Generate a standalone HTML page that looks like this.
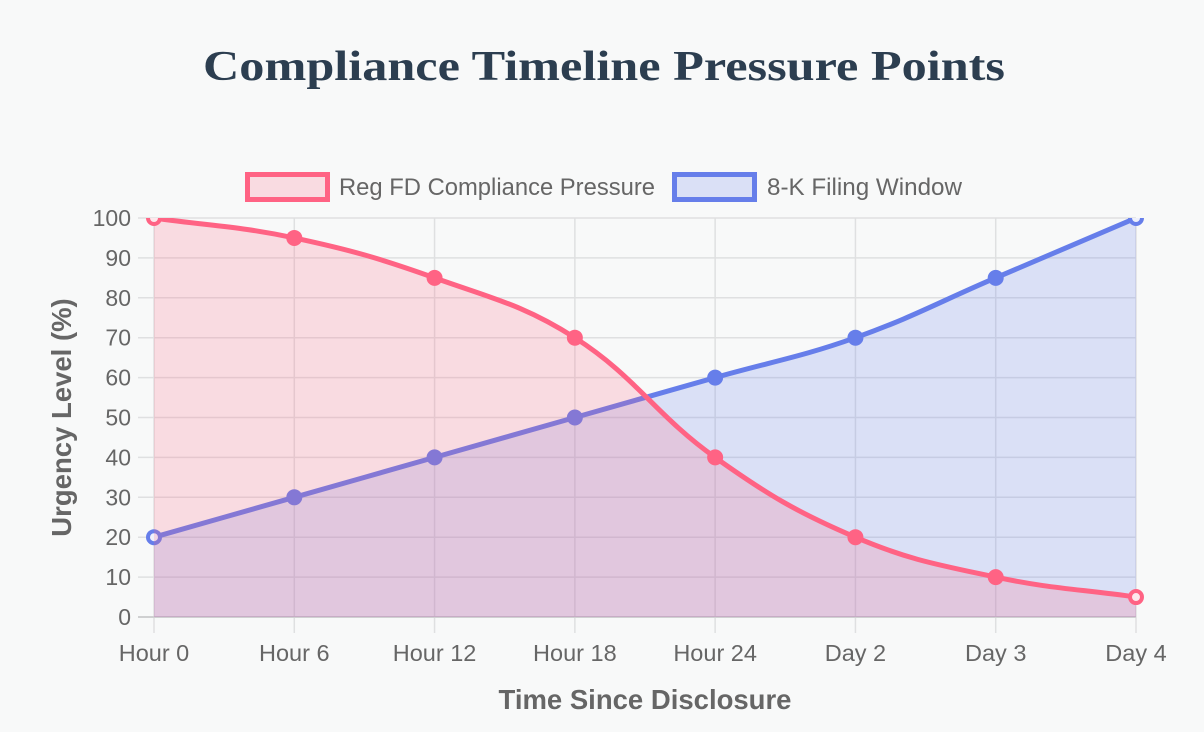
<!DOCTYPE html>
<html><head><meta charset="utf-8"><style>
html,body{margin:0;padding:0;background:#f8f9f9;}
svg{display:block;}
</style></head><body>
<svg width="1204" height="732" viewBox="0 0 1204 732" xmlns="http://www.w3.org/2000/svg">
<rect width="1204" height="732" fill="#f8f9f9"/>
<text x="604" y="80" text-anchor="middle" font-family="Liberation Serif, serif" font-weight="bold" font-size="42" fill="#2c3e50" textLength="802" lengthAdjust="spacingAndGlyphs">Compliance Timeline Pressure Points</text>

<!-- legend -->
<rect x="247.5" y="174.5" width="80" height="25" fill="rgba(255,99,132,0.2)" stroke="#ff6384" stroke-width="5"/>
<text x="339" y="195" font-family="Liberation Sans, sans-serif" font-size="23.8" fill="#666" textLength="316" lengthAdjust="spacingAndGlyphs">Reg FD Compliance Pressure</text>
<rect x="674.5" y="174.5" width="80" height="25" fill="rgba(102,126,234,0.2)" stroke="#667eea" stroke-width="5"/>
<text x="767" y="195" font-family="Liberation Sans, sans-serif" font-size="23.8" fill="#666" textLength="195" lengthAdjust="spacingAndGlyphs">8-K Filing Window</text>

<!-- grid -->
<g stroke="#dfe0e1" stroke-width="1.5">
<line x1="138" y1="218" x2="1136" y2="218"/>
<line x1="138" y1="257.9" x2="1136" y2="257.9"/>
<line x1="138" y1="297.8" x2="1136" y2="297.8"/>
<line x1="138" y1="337.7" x2="1136" y2="337.7"/>
<line x1="138" y1="377.6" x2="1136" y2="377.6"/>
<line x1="138" y1="417.5" x2="1136" y2="417.5"/>
<line x1="138" y1="457.4" x2="1136" y2="457.4"/>
<line x1="138" y1="497.3" x2="1136" y2="497.3"/>
<line x1="138" y1="537.2" x2="1136" y2="537.2"/>
<line x1="138" y1="577.1" x2="1136" y2="577.1"/>
<line x1="154" y1="218" x2="154" y2="633"/>
<line x1="294.29" y1="218" x2="294.29" y2="633"/>
<line x1="434.57" y1="218" x2="434.57" y2="633"/>
<line x1="574.86" y1="218" x2="574.86" y2="633"/>
<line x1="715.14" y1="218" x2="715.14" y2="633"/>
<line x1="855.43" y1="218" x2="855.43" y2="633"/>
<line x1="995.71" y1="218" x2="995.71" y2="633"/>
<line x1="1136" y1="218" x2="1136" y2="633"/>
</g>
<line x1="138" y1="617" x2="1136" y2="617" stroke="#cfd0d1" stroke-width="2"/>

<!-- y ticks -->
<g font-family="Liberation Sans, sans-serif" font-size="23" fill="#666" text-anchor="end">
<text x="131" y="226">100</text>
<text x="131" y="265.9">90</text>
<text x="131" y="305.8">80</text>
<text x="131" y="345.7">70</text>
<text x="131" y="385.6">60</text>
<text x="131" y="425.5">50</text>
<text x="131" y="465.4">40</text>
<text x="131" y="505.3">30</text>
<text x="131" y="545.2">20</text>
<text x="131" y="585.1">10</text>
<text x="131" y="625">0</text>
</g>
<!-- x ticks -->
<g font-family="Liberation Sans, sans-serif" font-size="23.5" fill="#666" text-anchor="middle">
<text x="154" y="661">Hour 0</text>
<text x="294.29" y="661">Hour 6</text>
<text x="434.57" y="661">Hour 12</text>
<text x="574.86" y="661">Hour 18</text>
<text x="715.14" y="661">Hour 24</text>
<text x="855.43" y="661">Day 2</text>
<text x="995.71" y="661">Day 3</text>
<text x="1136" y="661">Day 4</text>
</g>
<text x="645" y="709" text-anchor="middle" font-family="Liberation Sans, sans-serif" font-weight="bold" font-size="27.5" fill="#666">Time Since Disclosure</text>
<text transform="translate(71,417.5) rotate(-90)" text-anchor="middle" font-family="Liberation Sans, sans-serif" font-weight="bold" font-size="27.5" fill="#666">Urgency Level (%)</text>

<defs><clipPath id="ca"><rect x="100" y="218" width="1104" height="420"/></clipPath></defs>
<g clip-path="url(#ca)">
<!-- blue dataset -->
<path d="M154,537.2 C210.11,521.24 238.18,513.26 294.29,497.3 C350.40,481.34 378.46,473.36 434.57,457.4 C490.68,441.44 518.75,433.46 574.86,417.5 C630.97,401.54 659.03,393.56 715.14,377.6 C771.25,361.64 800.58,357.20 855.43,337.7 C912.81,317.30 939.60,301.79 995.71,277.85 C1051.82,253.91 1079.89,241.94 1136,218 L1136,617 L154,617 Z" fill="rgba(102,126,234,0.2)"/>
<path d="M154,537.2 C210.11,521.24 238.18,513.26 294.29,497.3 C350.40,481.34 378.46,473.36 434.57,457.4 C490.68,441.44 518.75,433.46 574.86,417.5 C630.97,401.54 659.03,393.56 715.14,377.6 C771.25,361.64 800.58,357.20 855.43,337.7 C912.81,317.30 939.60,301.79 995.71,277.85 C1051.82,253.91 1079.89,241.94 1136,218" fill="none" stroke="#667eea" stroke-width="5"/>
<g fill="#667eea">
<circle cx="154" cy="537.2" r="6" fill="#eef0fb" stroke="#667eea" stroke-width="4"/>
<circle cx="294.29" cy="497.3" r="8"/>
<circle cx="434.57" cy="457.4" r="8"/>
<circle cx="574.86" cy="417.5" r="8"/>
<circle cx="715.14" cy="377.6" r="8"/>
<circle cx="855.43" cy="337.7" r="8"/>
<circle cx="995.71" cy="277.85" r="8"/>
<circle cx="1136" cy="218" r="6" fill="#eef0fb" stroke="#667eea" stroke-width="4"/>
</g>
<!-- pink dataset -->
<path d="M154,218 C210.11,225.98 238.99,226.15 294.29,237.95 C351.22,250.09 379.72,258.35 434.57,277.85 C491.95,298.25 524.05,305.18 574.86,337.7 C636.28,377.00 655.29,414.85 715.14,457.4 C767.52,494.65 796.48,512.05 855.43,537.2 C908.71,559.93 938.78,564.96 995.71,577.1 C1051.01,588.90 1079.89,589.07 1136,597.05 L1136,617 L154,617 Z" fill="rgba(255,99,132,0.2)"/>
<path d="M154,218 C210.11,225.98 238.99,226.15 294.29,237.95 C351.22,250.09 379.72,258.35 434.57,277.85 C491.95,298.25 524.05,305.18 574.86,337.7 C636.28,377.00 655.29,414.85 715.14,457.4 C767.52,494.65 796.48,512.05 855.43,537.2 C908.71,559.93 938.78,564.96 995.71,577.1 C1051.01,588.90 1079.89,589.07 1136,597.05" fill="none" stroke="#ff6384" stroke-width="5"/>
<g fill="#ff6384">
<circle cx="154" cy="218" r="6" fill="#fde8ec" stroke="#ff6384" stroke-width="4"/>
<circle cx="294.29" cy="237.95" r="8"/>
<circle cx="434.57" cy="277.85" r="8"/>
<circle cx="574.86" cy="337.7" r="8"/>
<circle cx="715.14" cy="457.4" r="8"/>
<circle cx="855.43" cy="537.2" r="8"/>
<circle cx="995.71" cy="577.1" r="8"/>
<circle cx="1136" cy="597.05" r="6" fill="#fde8ec" stroke="#ff6384" stroke-width="4"/>
</g>
</g>
</svg>
</body></html>
